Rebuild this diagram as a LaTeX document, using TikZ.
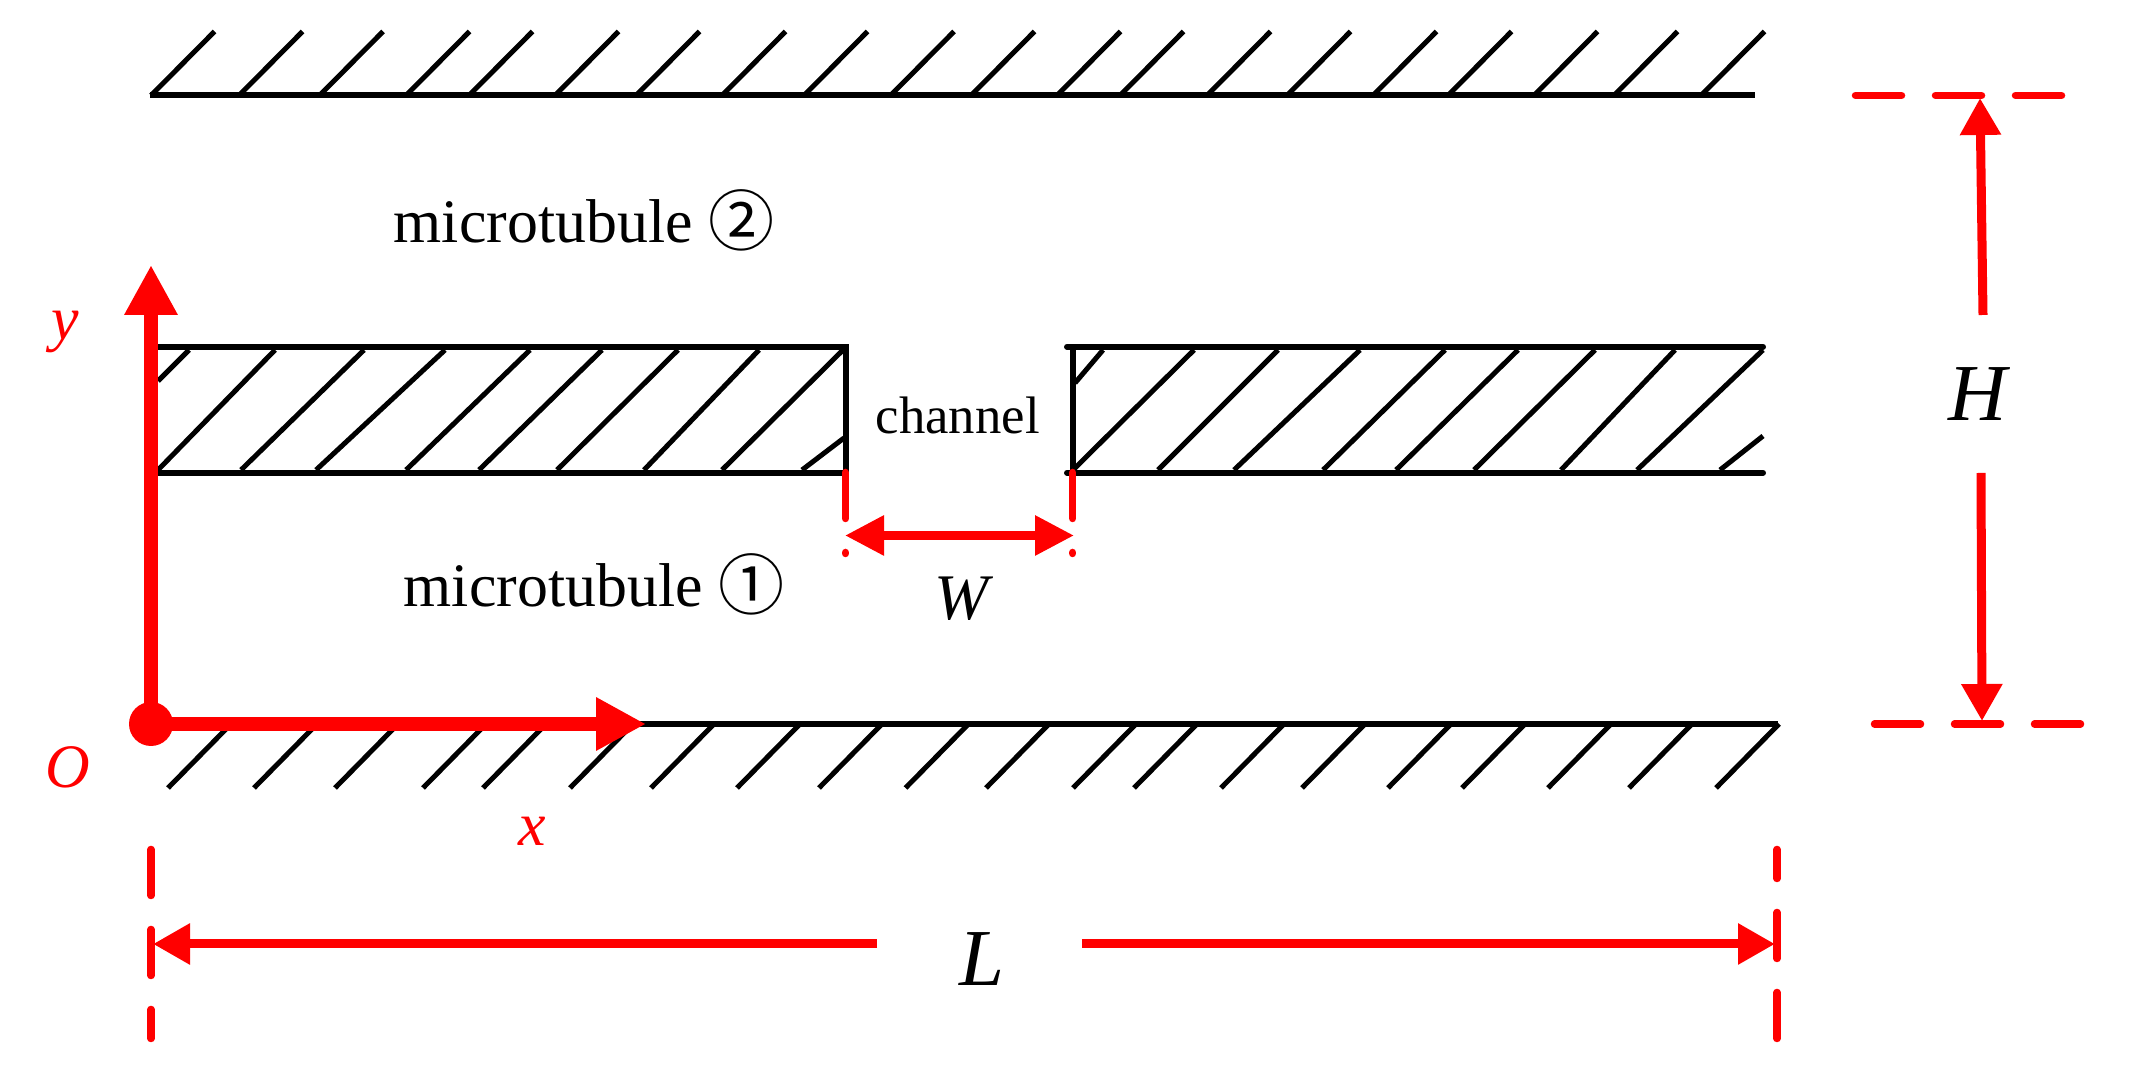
\documentclass[tikz,border=0pt]{standalone}
\usepackage{fontspec}
\setmainfont{Liberation Serif}
\newfontfamily\cjk{Noto Sans CJK SC}
\usetikzlibrary{arrows.meta}

\begin{document}
\begin{tikzpicture}
\tikzstyle{wall} = [line width=0.06cm, black]
\tikzstyle{hatch} = [line width=0.05cm, black]
\tikzstyle{axis} = [line width=0.14cm, red, -{Triangle[length=0.5cm, width=0.5cm]}]
\tikzstyle{dim} = [line width=0.09cm, red, -{Triangle[length=0.37cm, width=0.39cm]}]
\tikzstyle{guide} = [line width=0.075cm, red, line cap=round, dash pattern=on 0.46cm off 0.34cm]
\tikzstyle{label} = [inner sep=0pt, font=\fontsize{17.6}{20}\selectfont]
\tikzstyle{redlabel} = [label, text=red, font=\fontsize{17.6}{20}\selectfont\itshape]
\tikzstyle{biglabel} = [inner sep=0pt, font=\fontsize{23}{26}\selectfont\itshape]
\newcommand{\tubemark}[1]{\raisebox{-0.03cm}{\fontsize{18.8}{20}\cjk #1}}
\useasboundingbox (0,0) rectangle (21.33,-10.81);
% -----------------------------------
% Upper wall
\coordinate (topL) at (1.50,-0.955);
\coordinate (topR) at (17.55,-0.955);
\draw[wall] (topL)--(topR);
\foreach \x in {1.51,2.39,3.195,4.06,4.69,5.55,6.36,7.22,8.04,8.905,9.71,10.57,11.20,12.07,12.87,13.73,14.48,15.34,16.14,17.01}
  \draw[hatch] (\x,-0.955)--++(0.635,0.64);

% -----------------------------------
% Left block
\coordinate (leftTL) at (1.50,-3.467);
\coordinate (leftTR) at (8.455,-3.467);
\coordinate (leftBR) at (8.455,-4.727);
\coordinate (leftBL) at (1.50,-4.727);
\draw[wall] (leftTL)--(leftTR)--(leftBR)--(leftBL);
\foreach \t/\b in {2.75/1.58,3.64/2.41,4.45/3.16,5.30/4.06,6.02/4.79,6.78/5.57,7.59/6.44,8.43/7.22}
  \draw[hatch] (\t,-3.5)--(\b,-4.7);
\draw[hatch] (1.89,-3.5)--(1.58,-3.81);
\draw[hatch] (8.02,-4.7)--(8.44,-4.38);

% -----------------------------------
% Right block
\coordinate (rightTL) at (10.67,-3.467);
\coordinate (rightTR) at (17.63,-3.467);
\coordinate (rightBL) at (10.67,-4.727);
\coordinate (rightBR) at (17.63,-4.727);
\coordinate (rightVT) at (10.727,-3.467);
\coordinate (rightVB) at (10.727,-4.727);
\draw[wall, line cap=round] (rightTL)--(rightTR);
\draw[wall, line cap=round] (rightBL)--(rightBR);
\draw[wall] (rightVT)--(rightVB);
\foreach \t/\b in {11.94/10.73,12.78/11.58,13.60/12.34,14.45/13.23,15.18/13.96,15.95/14.74,16.75/15.61,17.63/16.37}
  \draw[hatch] (\t,-3.5)--(\b,-4.7);
\draw[hatch] (11.03,-3.5)--(10.75,-3.83);
\draw[hatch] (17.20,-4.7)--(17.63,-4.36);

% -----------------------------------
% Lower wall
\coordinate (botL) at (1.50,-7.24);
\coordinate (botR) at (17.78,-7.24);
\draw[wall] (botL)--(botR);
\foreach \x in {1.68,2.54,3.35,4.23,4.83,5.70,6.51,7.37,8.19,9.055,9.86,10.73,11.34,12.21,13.02,13.88,14.62,15.48,16.29,17.16}
  \draw[hatch] (\x,-7.88)--++(0.63,0.64);

% -----------------------------------
% Axes
\coordinate (O) at (1.51,-7.24);
\coordinate (xTip) at (6.46,-7.24);
\coordinate (yTip) at (1.51,-2.65);
\draw[axis] (O)--(xTip);
\draw[axis] (O)--(yTip);
\fill[red] (O) circle (0.22);
\node[redlabel, anchor=base] (labO) at (0.68,-7.88) {O};
\node[redlabel, anchor=base] (labx) at (5.32,-8.46) {x};
\node[redlabel, anchor=base] (laby) at (0.65,-3.40) {y};

% -----------------------------------
% Channel width
\coordinate (wLa) at (8.455,-4.725);
\coordinate (wLb) at (8.455,-5.535);
\coordinate (wRa) at (10.727,-4.725);
\coordinate (wRb) at (10.727,-5.535);
\coordinate (wL) at (8.45,-5.355);
\coordinate (wR) at (10.74,-5.355);
\draw[guide] (wLa)--(wLb);
\draw[guide] (wRa)--(wRb);
\draw[dim, {Triangle[length=0.39cm, width=0.38cm]}-{Triangle[length=0.39cm, width=0.38cm]}] (wL)--(wR);
\node[inner sep=0pt, anchor=base, font=\fontsize{18.5}{20}\selectfont\itshape] (labW) at (9.62,-6.20) {W};

% -----------------------------------
% Height H
\coordinate (hTopA) at (18.555,-0.955);
\coordinate (hTopB) at (20.65,-0.955);
\coordinate (hBotA) at (18.745,-7.24);
\coordinate (hBotB) at (20.85,-7.24);
\draw[guide] (hTopA)--(hTopB);
\draw[guide] (hBotA)--(hBotB);
\coordinate (hUpS) at (19.83,-3.15);
\coordinate (hUpE) at (19.80,-0.98);
\coordinate (hDnS) at (19.81,-4.73);
\coordinate (hDnE) at (19.82,-7.21);
\draw[dim] (hUpS)--(hUpE);
\draw[dim] (hDnS)--(hDnE);
\node[biglabel, anchor=base] (labH) at (19.78,-4.21) {H};

% -----------------------------------
% Length L
\coordinate (lLa) at (1.51,-8.495);
\coordinate (lLb) at (1.51,-10.385);
\coordinate (lRa) at (17.77,-10.385);
\coordinate (lRb) at (17.77,-8.495);
\draw[guide] (lLa)--(lLb);
\draw[guide] (lRa)--(lRb);
\coordinate (lLS) at (8.77,-9.44);
\coordinate (lLE) at (1.53,-9.44);
\coordinate (lRS) at (10.82,-9.44);
\coordinate (lRE) at (17.75,-9.44);
\draw[dim] (lLS)--(lLE);
\draw[dim] (lRS)--(lRE);
\node[biglabel, anchor=base] (labL) at (9.82,-9.86) {L};

% -----------------------------------
% Texts
\node[label, anchor=base west] (tube2) at (3.93,-2.43) {microtubule \tubemark{②}};
\node[label, anchor=base west] (tube1) at (4.03,-6.07) {microtubule \tubemark{①}};
\node[inner sep=0pt, anchor=base west, font=\fontsize{15}{18}\selectfont] (chan) at (8.75,-4.34) {channel};
% -----------------------------------
\end{tikzpicture}
\end{document}
